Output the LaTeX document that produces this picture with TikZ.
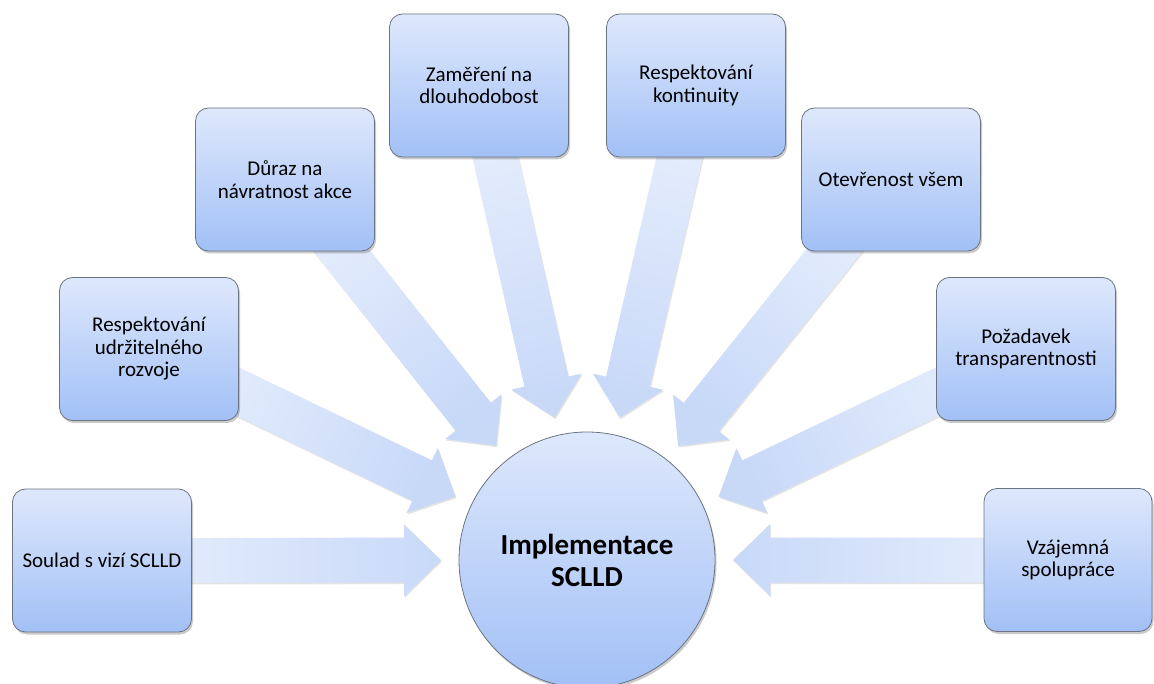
\documentclass[tikz,border=0pt]{standalone}
\usepackage{fontspec}
\setmainfont{Carlito}
\usetikzlibrary{calc,shadows}
\pgfdeclarelayer{bg}
\pgfsetlayers{bg,main}
\definecolor{boxtop}{HTML}{DEE8FC}
\definecolor{boxbot}{HTML}{A2C0F6}
\definecolor{arrtail}{HTML}{E9F0FD}
\definecolor{arrtip}{HTML}{C8D9F8}
\definecolor{edgegray}{HTML}{6B7481}
\tikzset{
  idea/.style={rectangle, rounded corners=13pt, draw=edgegray, line width=0.8pt,
    top color=boxtop, bottom color=boxbot, minimum width=179pt, minimum height=143pt,
    align=center, inner sep=0pt, font=\fontsize{21}{22.5}\selectfont,
    drop shadow={shadow xshift=1.5pt, shadow yshift=-2.5pt, opacity=0.35, fill=black!60}},
  hub/.style={circle, draw=edgegray, line width=0.8pt, top color=boxtop, bottom color=boxbot,
    minimum size=256pt, inner sep=0pt, align=center,
    font=\fontsize{29}{32}\selectfont\bfseries,
    drop shadow={shadow xshift=1.5pt, shadow yshift=-2.5pt, opacity=0.35, fill=black!60}},
  blockarrow/.style={top color=arrtail, bottom color=arrtip, draw=none,
    drop shadow={shadow xshift=1pt, shadow yshift=-1.5pt, opacity=0.18, fill=black!60}}
}
\newcommand{\convarrow}[3]{%
  \coordinate (#2t) at ($(hub.center)!146pt!(#1.center)$);
  \coordinate (#2h) at ($(#2t)!37pt!(#1.center)$);
  \shade[blockarrow, shading angle=#3] (#2t)
    -- ($(#2h)!36pt!90:(#1.center)$)
    -- ($(#2h)!22.5pt!90:(#1.center)$)
    -- ($(#1.center)!22.5pt!-90:(#2h)$)
    -- ($(#1.center)!22.5pt!90:(#2h)$)
    -- ($(#2h)!22.5pt!-90:(#1.center)$)
    -- ($(#2h)!36pt!-90:(#1.center)$)
    -- cycle;
}
\begin{document}
\begin{tikzpicture}[x=1pt, y=-1pt]
  \useasboundingbox (0,0) rectangle (1154,684);
  \node[idea] (b1) at (102,560.5) {Soulad s vizí SCLLD};
  \node[idea] (b2) at (149,349) {Respektování\\udržitelného\\rozvoje};
  \node[idea] (b3) at (285,179.5) {Důraz na\\návratnost akce};
  \node[idea] (b4) at (479,85.5) {Zaměření na\\dlouhodobost};
  \node[idea] (b5) at (696,85.5) {Respektování\\kontinuity};
  \node[idea] (b6) at (891,179.5) {Otevřenost všem};
  \node[idea] (b7) at (1026,349) {Požadavek\\transparentnosti};
  \node[idea, minimum width=168pt] (b8) at (1068,560) {Vzájemná\\spolupráce};
  \node[hub] (hub) at (587,560) {Implementace\\SCLLD};
  \begin{pgfonlayer}{bg}
    \convarrow{b1}{a1}{90}
    \convarrow{b2}{a2}{64.3}
    \convarrow{b3}{a3}{38.4}
    \convarrow{b4}{a4}{12.8}
    \convarrow{b5}{a5}{-12.9}
    \convarrow{b6}{a6}{-38.6}
    \convarrow{b7}{a7}{-64.3}
    \convarrow{b8}{a8}{-90}
  \end{pgfonlayer}
\end{tikzpicture}
\end{document}
